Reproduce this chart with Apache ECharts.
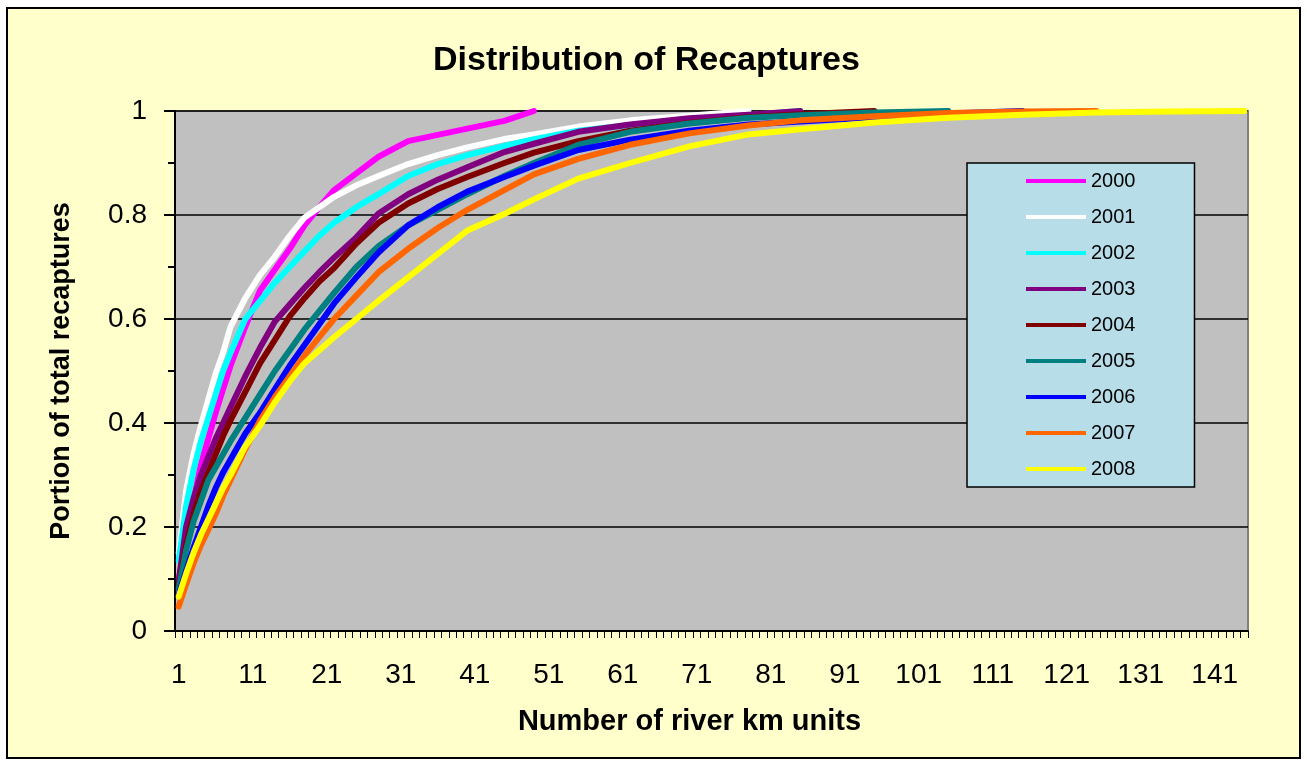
<!DOCTYPE html>
<html>
<head>
<meta charset="utf-8">
<title>Distribution of Recaptures</title>
<script src="https://cdn.jsdelivr.net/npm/echarts@6/dist/echarts.min.js"></script>
<style>
  html, body { margin: 0; padding: 0; background: #ffffff; }
  #chart { width: 1307px; height: 765px; }
</style>
</head>
<body>
<div id="chart"></div>
<script>
// River km units at which each cumulative curve was sampled
const kmUnits = [1, 2, 3, 4, 5, 6, 7, 8, 10, 12, 14, 16, 18, 20, 22, 25, 28, 32, 36, 40, 45, 49, 55, 62, 70, 78, 85, 95, 105, 115, 125, 135, 145];

// Cumulative portion of recaptures per year (a year's list stops once it reaches 1)
const y2000 = [0.10, 0.17, 0.25, 0.32, 0.37, 0.42, 0.465, 0.51, 0.585, 0.655, 0.695, 0.735, 0.78, 0.815, 0.848, 0.88, 0.912, 0.942, 0.954, 0.966, 0.981, 1.0];
const y2001 = [0.15, 0.27, 0.34, 0.395, 0.445, 0.495, 0.535, 0.585, 0.64, 0.685, 0.72, 0.76, 0.795, 0.815, 0.835, 0.857, 0.875, 0.898, 0.915, 0.93, 0.946, 0.955, 0.97, 0.982, 0.991, 1.0];
const y2002 = [0.135, 0.24, 0.31, 0.365, 0.41, 0.455, 0.5, 0.535, 0.6, 0.635, 0.67, 0.7, 0.73, 0.76, 0.785, 0.815, 0.84, 0.875, 0.898, 0.915, 0.933, 0.946, 0.962, 0.973, 0.983, 0.992, 1.0];
const y2003 = [0.095, 0.2, 0.255, 0.3, 0.335, 0.37, 0.4, 0.43, 0.49, 0.545, 0.595, 0.628, 0.66, 0.69, 0.718, 0.757, 0.803, 0.84, 0.868, 0.892, 0.921, 0.937, 0.96, 0.974, 0.986, 0.993, 1.0];
const y2004 = [0.085, 0.165, 0.225, 0.27, 0.305, 0.34, 0.375, 0.405, 0.46, 0.515, 0.56, 0.605, 0.64, 0.672, 0.698, 0.745, 0.785, 0.822, 0.85, 0.873, 0.9, 0.92, 0.942, 0.962, 0.977, 0.988, 0.994, 1.0];
const y2005 = [0.08, 0.155, 0.21, 0.25, 0.29, 0.315, 0.34, 0.365, 0.41, 0.455, 0.5, 0.54, 0.58, 0.615, 0.65, 0.7, 0.74, 0.78, 0.81, 0.84, 0.875, 0.9, 0.935, 0.96, 0.976, 0.987, 0.992, 0.997, 1.0];
const y2006 = [0.07, 0.115, 0.16, 0.2, 0.24, 0.275, 0.305, 0.33, 0.38, 0.42, 0.465, 0.51, 0.55, 0.59, 0.63, 0.68, 0.728, 0.78, 0.815, 0.845, 0.873, 0.895, 0.925, 0.945, 0.962, 0.974, 0.98, 0.988, 0.995, 1.0];
const y2007 = [0.047, 0.09, 0.13, 0.165, 0.195, 0.225, 0.26, 0.29, 0.35, 0.405, 0.45, 0.49, 0.53, 0.565, 0.6, 0.645, 0.69, 0.735, 0.775, 0.81, 0.848, 0.878, 0.908, 0.935, 0.957, 0.972, 0.982, 0.99, 0.996, 0.999, 1.0];
const y2008 = [0.066, 0.11, 0.15, 0.185, 0.215, 0.245, 0.275, 0.3, 0.355, 0.395, 0.44, 0.48, 0.515, 0.54, 0.565, 0.6, 0.635, 0.68, 0.725, 0.77, 0.802, 0.83, 0.87, 0.9, 0.932, 0.955, 0.965, 0.978, 0.987, 0.993, 0.997, 0.999, 1.0];

const yearNames = ['2000', '2001', '2002', '2003', '2004', '2005', '2006', '2007', '2008'];
const yearValues = [y2000, y2001, y2002, y2003, y2004, y2005, y2006, y2007, y2008];
const yearColors = ['#FF00FF', '#FFFFFF', '#00FFFF', '#800080', '#800000', '#008080', '#0000FF', '#FF6600', '#FFFF00'];

// Category axis: one category per river km unit
const kmCount = 145;
const categories = [];
for (let k = 1; k <= kmCount; k++) categories.push(String(k));

const yTicks = { min: 0, max: 1, interval: 0.2 };

const FONT = '"Liberation Sans", Arial, sans-serif';

const series = yearNames.map((name, s) => ({
  name: name,
  type: 'line',
  showSymbol: false,
  symbol: 'none',
  smooth: false,
  color: yearColors[s],
  lineStyle: { width: 6, color: yearColors[s], cap: 'round', join: 'round' },
  itemStyle: { color: yearColors[s] },
  emphasis: { disabled: true },
  data: yearValues[s].map((v, i) => [String(kmUnits[i]), v])
}));

const chart = echarts.init(document.getElementById('chart'), null, { renderer: 'canvas' });
chart.setOption({
  backgroundColor: '#ffffff',
  animation: false,
  graphic: [{
    type: 'rect',
    z: -10,
    silent: true,
    shape: { x: 7, y: 8, width: 1293, height: 750 },
    style: { fill: '#FFFFCC', stroke: '#000000', lineWidth: 2 }
  }],
  title: {
    text: 'Distribution of Recaptures',
    left: 428,
    top: 39,
    textStyle: { fontFamily: FONT, fontWeight: 'bold', fontSize: 34, color: '#000000' }
  },
  grid: {
    left: 175, top: 111, right: 59, bottom: 134,
    show: true,
    backgroundColor: '#C0C0C0',
    borderColor: '#808080',
    borderWidth: 2
  },
  legend: {
    orient: 'vertical',
    left: 967,
    top: 163,
    width: 226,
    padding: [8, 59, 8, 59],
    backgroundColor: '#B6DDE8',
    borderColor: '#000000',
    borderWidth: 1.5,
    icon: 'rect',
    itemWidth: 60,
    itemHeight: 4,
    itemGap: 16,
    selectedMode: false,
    data: yearNames,
    textStyle: { fontFamily: FONT, fontSize: 20, lineHeight: 20, color: '#000000' }
  },
  xAxis: {
    type: 'category',
    data: categories,
    boundaryGap: true,
    name: 'Number of river km units',
    nameLocation: 'middle',
    nameGap: 76,
    nameTextStyle: { fontFamily: FONT, fontWeight: 'bold', fontSize: 29, color: '#000000', padding: [0, 44, 0, 0] },
    axisLine: { show: true, lineStyle: { color: '#000000', width: 2 } },
    axisTick: { show: true, interval: 0, length: 7, lineStyle: { color: '#000000', width: 1 } },
    axisLabel: { interval: 9, margin: 30, fontFamily: FONT, fontSize: 28, color: '#000000' },
    splitLine: { show: false }
  },
  yAxis: {
    type: 'value',
    min: yTicks.min,
    max: yTicks.max,
    interval: yTicks.interval,
    name: 'Portion of total recaptures',
    nameLocation: 'middle',
    nameGap: 100,
    nameTextStyle: { fontFamily: FONT, fontWeight: 'bold', fontSize: 27, color: '#000000' },
    axisLine: { show: true, lineStyle: { color: '#000000', width: 2 } },
    axisTick: { show: true, length: 11, lineStyle: { color: '#000000', width: 2 } },
    minorTick: { show: true, splitNumber: 2, length: 7, lineStyle: { color: '#000000', width: 2 } },
    axisLabel: { margin: 28, fontFamily: FONT, fontSize: 28, color: '#000000',
      formatter: v => String(Math.round(v * 10) / 10) },
    splitLine: { show: true, lineStyle: { color: '#000000', width: 1.5 } }
  },
  series: series
});
</script>
</body>
</html>
